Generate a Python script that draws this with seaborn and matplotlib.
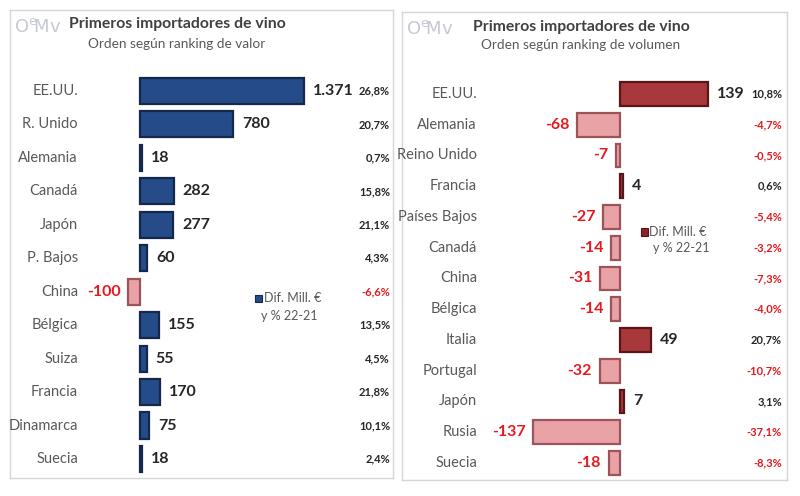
import matplotlib
matplotlib.use("Agg")
import matplotlib.pyplot as plt
import matplotlib.transforms as mtransforms
from matplotlib.patches import Rectangle
import seaborn as sns
import pandas as pd

# ---------------- data ----------------
countries_val = ["EE.UU.", "R. Unido", "Alemania", "Canadá", "Japón", "P. Bajos",
                 "China", "Bélgica", "Suiza", "Francia", "Dinamarca", "Suecia"]
diff_val = [1371, 780, 18, 282, 277, 60, -100, 155, 55, 170, 75, 18]
pct_val = [26.8, 20.7, 0.7, 15.8, 21.1, 4.3, -6.6, 13.5, 4.5, 21.8, 10.1, 2.4]

countries_vol = ["EE.UU.", "Alemania", "Reino Unido", "Francia", "Países Bajos", "Canadá",
                 "China", "Bélgica", "Italia", "Portugal", "Japón", "Rusia", "Suecia"]
diff_vol = [139, -68, -7, 4, -27, -14, -31, -14, 49, -32, 7, -137, -18]
pct_vol = [10.8, -4.7, -0.5, 0.6, -5.4, -3.2, -7.3, -4.0, 20.7, -10.7, 3.1, -37.1, -8.3]

titles = ["Primeros importadores de vino", "Primeros importadores de vino"]
subtitles = ["Orden según ranking de valor", "Orden según ranking de volumen"]
legend_lines = ["Dif. Mill. €", "y % 22-21"]

# ---------------- style ----------------
sns.set_theme(style="white")
plt.rcParams["font.family"] = ["Lato", "DejaVu Sans"]

W, H = 800, 496
fig = plt.figure(figsize=(8, 4.96), dpi=100)

GREY = "#595959"
TGREY = "#404040"
RED = "#e5191e"
BLUE = "#254c88"
BLUE_EDGE = "#14284c"
DRED = "#a8383c"
DRED_EDGE = "#5a1518"
PINK = "#e9a3a6"
PINK_EDGE = "#9c5458"
LOGO = "#c6c8d6"


def fmt_num(v):
    s = f"{abs(v):,}".replace(",", ".")
    return ("-" if v < 0 else "") + s


def fmt_pct(v):
    return f"{v:.1f}".replace(".", ",") + "%"


def px_axes(x0, y0, x1, y1):
    return fig.add_axes([x0 / W, 1 - y1 / H, (x1 - x0) / W, (y1 - y0) / H])


def draw_panel(ax, cats, vals, pcts, palette, edge_map, zero_px, px_per_unit,
               row0_px, row_step, box, lab_px, pct_px, title_cx, title_y, sub_y,
               title, subtitle, leg_sq, leg_t1, leg_t2, leg_col, leg_edge):
    x0, y0, x1, y1 = box
    df = pd.DataFrame({"pais": cats, "dif": vals,
                       "signo": ["pos" if v >= 0 else "neg" for v in vals]})
    sns.barplot(data=df, x="dif", y="pais", hue="signo", palette=palette,
                order=cats, dodge=False, width=0.78, legend=False, ax=ax,
                linewidth=1.6, saturation=1)
    for bar_container in ax.containers:
        for p in bar_container:
            w = p.get_width()
            if abs(w) < 1e-9:
                continue
            p.set_edgecolor(edge_map["pos" if w >= 0 else "neg"])
    xmin = -(zero_px - x0) / px_per_unit
    xmax = (x1 - zero_px) / px_per_unit
    ax.set_xlim(xmin, xmax)
    ymin = (y0 - row0_px) / row_step
    ymax = (y1 - row0_px) / row_step
    ax.set_ylim(ymax, ymin)
    ax.set_xlabel("")
    ax.set_ylabel("")
    ax.set_xticks([])
    ax.set_yticks([])
    for s in ax.spines.values():
        s.set_color("#d6d6d6")
        s.set_linewidth(1.0)

    bt = mtransforms.blended_transform_factory(ax.transAxes, ax.transData)
    wbox = x1 - x0
    for i, (c, v, pc) in enumerate(zip(cats, vals, pcts)):
        ax.text((lab_px - x0) / wbox, i, c, transform=bt, ha="right", va="center",
                fontsize=10.5, color=GREY)
        if v >= 0:
            ax.annotate(fmt_num(v), (v, i), xytext=(6.5, 0), textcoords="offset points",
                        ha="left", va="center", fontsize=11.5, fontweight="bold",
                        color="#262626")
        else:
            ax.annotate(fmt_num(v), (v, i), xytext=(-5.5, 0), textcoords="offset points",
                        ha="right", va="center", fontsize=11.5, fontweight="bold",
                        color=RED)
        ax.text((pct_px - x0) / wbox, i, fmt_pct(pc), transform=bt, ha="right",
                va="center", fontsize=8, fontweight="bold",
                color=RED if pc < 0 else "#262626")

    fig.text(title_cx / W, 1 - title_y / H, title, ha="center", va="center",
             fontsize=11.3, fontweight="bold", color=TGREY)
    fig.text(title_cx / W, 1 - sub_y / H, subtitle, ha="center", va="center",
             fontsize=9.8, color=GREY)

    sx, sy = leg_sq
    fig.patches.append(Rectangle((sx / W, 1 - (sy + 3.5) / H), 7 / W, 7 / H,
                                 transform=fig.transFigure, facecolor=leg_col,
                                 edgecolor=leg_edge, linewidth=0.8))
    fig.text(leg_t1[0] / W, 1 - leg_t1[1] / H, legend_lines[0], ha="left",
             va="center", fontsize=9, color=GREY)
    fig.text(leg_t2[0] / W, 1 - leg_t2[1] / H, legend_lines[1], ha="center",
             va="center", fontsize=9, color=GREY)


def logo(x, y):
    fig.text(x / W, 1 - y / H, r"O$^{\mathrm{e}}\!$Mv", ha="left", va="center",
             fontsize=13, color=LOGO, family="DejaVu Sans")


box_l = (10, 10, 393, 478)
ax1 = px_axes(*box_l)
draw_panel(ax1, countries_val, diff_val, pct_val,
           {"pos": BLUE, "neg": PINK}, {"pos": BLUE_EDGE, "neg": PINK_EDGE},
           zero_px=140, px_per_unit=164 / 1371, row0_px=91, row_step=33.45,
           box=box_l, lab_px=78, pct_px=390, title_cx=177, title_y=24, sub_y=44,
           title=titles[0], subtitle=subtitles[0],
           leg_sq=(255, 298), leg_t1=(264, 298), leg_t2=(289, 316),
           leg_col=BLUE, leg_edge=BLUE_EDGE)
logo(14, 27)

box_r = (402, 12, 787, 480)
ax2 = px_axes(*box_r)
draw_panel(ax2, countries_vol, diff_vol, pct_vol,
           {"pos": DRED, "neg": PINK}, {"pos": DRED_EDGE, "neg": PINK_EDGE},
           zero_px=620, px_per_unit=88 / 139, row0_px=94, row_step=30.75,
           box=box_r, lab_px=477, pct_px=782, title_cx=581, title_y=27, sub_y=45,
           title=titles[1], subtitle=subtitles[1],
           leg_sq=(641, 232), leg_t1=(649, 232), leg_t2=(681, 248),
           leg_col="#8a2327", leg_edge=DRED_EDGE)
logo(406, 29)

fig.savefig("out.png", dpi=100)
